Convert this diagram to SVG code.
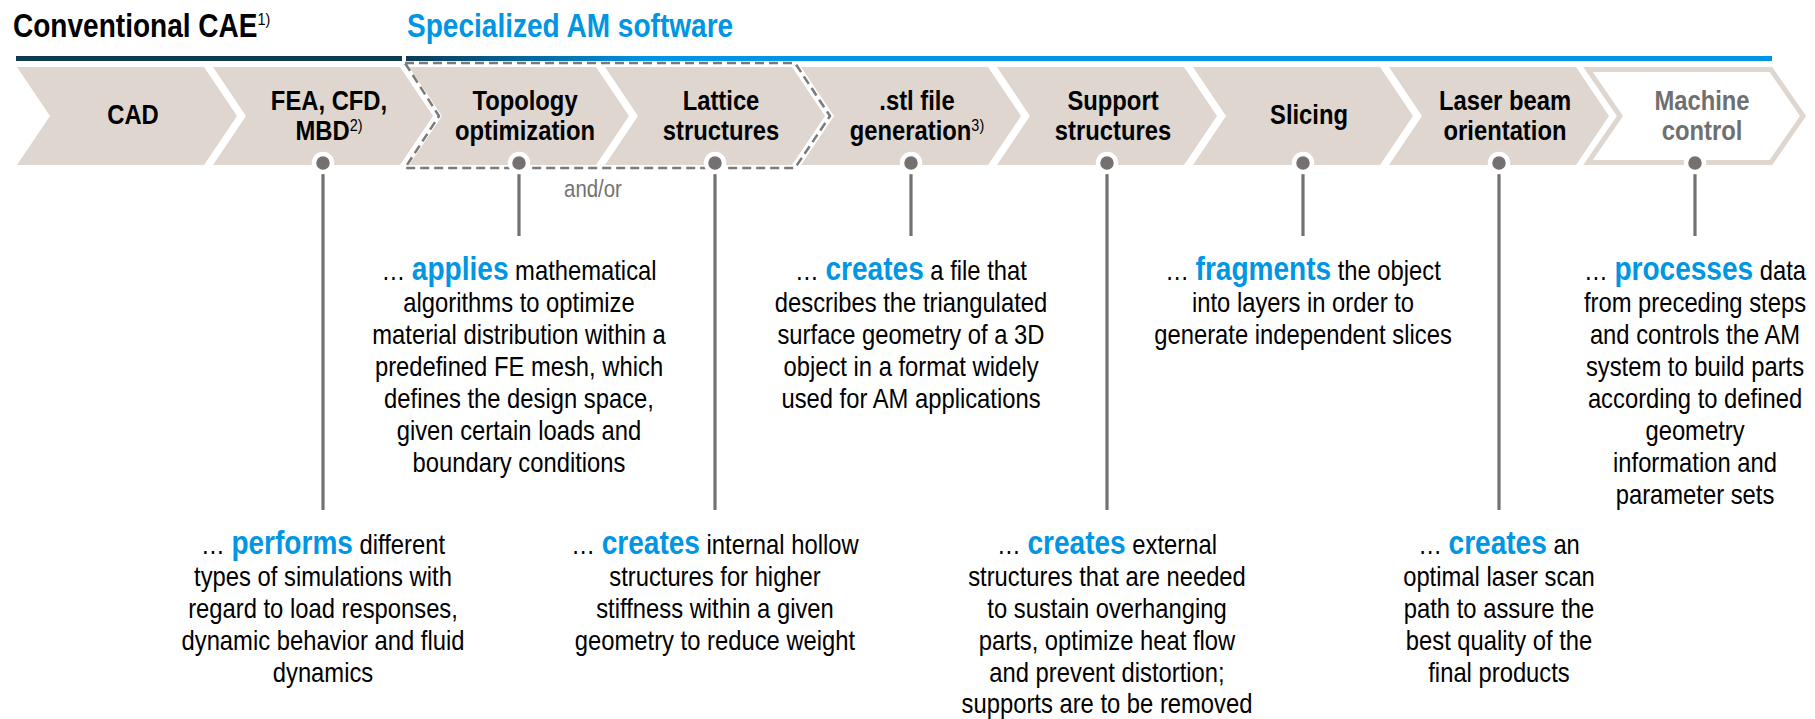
<svg xmlns="http://www.w3.org/2000/svg" width="1815" height="719" viewBox="0 0 1815 719">
<defs>
<style>
.hd{font-family:"Liberation Sans",Arial,sans-serif;font-weight:bold;font-size:33px}
.lbl{font-family:"Liberation Sans",Arial,sans-serif;font-weight:bold;font-size:28px;fill:#000;text-anchor:middle}
.sup{font-weight:normal;font-size:17px}
.body{font-family:"Liberation Sans",Arial,sans-serif;font-size:28px;fill:#000;text-anchor:middle}
.kw{font-weight:bold;font-size:33px;fill:#0096E3}
.chev{fill:#DED6CF}
.conn{stroke:#767171;stroke-width:3.2}
.dot{fill:#767171;stroke:#fff;stroke-width:4.5}
</style>
<linearGradient id="gl" gradientUnits="userSpaceOnUse" x1="406" y1="0" x2="650" y2="0">
<stop offset="0" stop-color="#0C3A55"/>
<stop offset="1" stop-color="#0094E4"/>
</linearGradient>
</defs>
<rect width="1815" height="719" fill="#fff"/>

<g id="headers">
<g transform="translate(13,37) scale(0.85,1)"><text class="hd" x="0" y="0" fill="#000">Conventional CAE<tspan class="sup" dy="-12" font-size="20">1)</tspan></text></g>
<g transform="translate(407,37) scale(0.85,1)"><text class="hd" x="0" y="0" fill="#0096E3">Specialized AM software</text></g>
<rect x="16" y="56" width="386" height="5" fill="#0E3D52"/>
<rect x="406" y="56" width="1366" height="5" fill="url(#gl)"/>
</g>

<g id="node-cad">
<polygon class="chev" points="17,67 204,67 237,116 204,165 17,165 50,116"/>
<g transform="translate(133,0) scale(0.85,1)"><text class="lbl" x="0" y="124">CAD</text></g>
</g>
<g id="node-fea">
<polygon class="chev" points="213,67 400,67 433,116 400,165 213,165 246,116"/>
<g transform="translate(329,0) scale(0.85,1)"><text class="lbl"><tspan x="0" y="110">FEA, CFD,</tspan><tspan x="0" y="140">MBD<tspan class="sup" dy="-9">2)</tspan></tspan></text></g>
</g>
<g id="node-topology">
<polygon class="chev" points="409,67 596,67 629,116 596,165 409,165 442,116"/>
<g transform="translate(525,0) scale(0.85,1)"><text class="lbl"><tspan x="0" y="110">Topology</tspan><tspan x="0" y="140">optimization</tspan></text></g>
</g>
<g id="node-lattice">
<polygon class="chev" points="605,67 792,67 825,116 792,165 605,165 638,116"/>
<g transform="translate(721,0) scale(0.85,1)"><text class="lbl"><tspan x="0" y="110">Lattice</tspan><tspan x="0" y="140">structures</tspan></text></g>
</g>
<g id="node-stl">
<polygon class="chev" points="801,67 988,67 1021,116 988,165 801,165 834,116"/>
<g transform="translate(917,0) scale(0.85,1)"><text class="lbl"><tspan x="0" y="110">.stl file</tspan><tspan x="0" y="140">generation<tspan class="sup" dy="-9">3)</tspan></tspan></text></g>
</g>
<g id="node-support">
<polygon class="chev" points="997,67 1184,67 1217,116 1184,165 997,165 1030,116"/>
<g transform="translate(1113,0) scale(0.85,1)"><text class="lbl"><tspan x="0" y="110">Support</tspan><tspan x="0" y="140">structures</tspan></text></g>
</g>
<g id="node-slicing">
<polygon class="chev" points="1193,67 1380,67 1413,116 1380,165 1193,165 1226,116"/>
<g transform="translate(1309,0) scale(0.85,1)"><text class="lbl" x="0" y="124">Slicing</text></g>
</g>
<g id="node-laser">
<polygon class="chev" points="1389,67 1576,67 1609,116 1576,165 1389,165 1422,116"/>
<g transform="translate(1505,0) scale(0.85,1)"><text class="lbl"><tspan x="0" y="110">Laser beam</tspan><tspan x="0" y="140">orientation</tspan></text></g>
</g>
<g id="node-machine">
<polygon points="1588,69.5 1771,69.5 1803,116 1771,162.5 1588,162.5 1620,116" fill="#fff" stroke="#DED6CF" stroke-width="5"/>
<g transform="translate(1702,0) scale(0.85,1)"><text class="lbl" style="fill:#6F6F6F"><tspan x="0" y="110">Machine</tspan><tspan x="0" y="140">control</tspan></text></g>
</g>

<g id="group-am-options">
<polygon points="405,63 795,63 830,116 795,168 405,168 439,116" fill="none" stroke="#7A7A7A" stroke-width="2.5" stroke-dasharray="9 5"/>
<g transform="translate(593,0) scale(0.85,1)"><text x="0" y="197" font-family="'Liberation Sans',Arial,sans-serif" font-size="24" fill="#767171" text-anchor="middle">and/or</text></g>
</g>

<g id="connectors">
<line class="conn" x1="323" y1="163" x2="323" y2="510"/>
<line class="conn" x1="519" y1="163" x2="519" y2="236"/>
<line class="conn" x1="715" y1="163" x2="715" y2="510"/>
<line class="conn" x1="911" y1="163" x2="911" y2="236"/>
<line class="conn" x1="1107" y1="163" x2="1107" y2="510"/>
<line class="conn" x1="1303" y1="163" x2="1303" y2="236"/>
<line class="conn" x1="1499" y1="163" x2="1499" y2="510"/>
<line class="conn" x1="1695" y1="163" x2="1695" y2="236"/>
<circle class="dot" cx="323" cy="163" r="9"/>
<circle class="dot" cx="519" cy="163" r="9"/>
<circle class="dot" cx="715" cy="163" r="9"/>
<circle class="dot" cx="911" cy="163" r="9"/>
<circle class="dot" cx="1107" cy="163" r="9"/>
<circle class="dot" cx="1303" cy="163" r="9"/>
<circle class="dot" cx="1499" cy="163" r="9"/>
<circle class="dot" cx="1695" cy="163" r="9"/>
</g>

<g id="desc-fea" transform="translate(323,0) scale(0.85,1)">
<text class="body"><tspan x="0" y="554">… <tspan class="kw">performs</tspan> different</tspan><tspan x="0" y="586">types of simulations with</tspan><tspan x="0" y="618">regard to load responses,</tspan><tspan x="0" y="650">dynamic behavior and fluid</tspan><tspan x="0" y="682">dynamics</tspan></text>
</g>
<g id="desc-topology" transform="translate(519,0) scale(0.85,1)">
<text class="body"><tspan x="0" y="280">… <tspan class="kw">applies</tspan> mathematical</tspan><tspan x="0" y="312">algorithms to optimize</tspan><tspan x="0" y="344">material distribution within a</tspan><tspan x="0" y="376">predefined FE mesh, which</tspan><tspan x="0" y="408">defines the design space,</tspan><tspan x="0" y="440">given certain loads and</tspan><tspan x="0" y="472">boundary conditions</tspan></text>
</g>
<g id="desc-lattice" transform="translate(715,0) scale(0.85,1)">
<text class="body"><tspan x="0" y="554">… <tspan class="kw">creates</tspan> internal hollow</tspan><tspan x="0" y="586">structures for higher</tspan><tspan x="0" y="618">stiffness within a given</tspan><tspan x="0" y="650">geometry to reduce weight</tspan></text>
</g>
<g id="desc-stl" transform="translate(911,0) scale(0.85,1)">
<text class="body"><tspan x="0" y="280">… <tspan class="kw">creates</tspan> a file that</tspan><tspan x="0" y="312">describes the triangulated</tspan><tspan x="0" y="344">surface geometry of a 3D</tspan><tspan x="0" y="376">object in a format widely</tspan><tspan x="0" y="408">used for AM applications</tspan></text>
</g>
<g id="desc-support" transform="translate(1107,0) scale(0.85,1)">
<text class="body"><tspan x="0" y="554">… <tspan class="kw">creates</tspan> external</tspan><tspan x="0" y="586">structures that are needed</tspan><tspan x="0" y="618">to sustain overhanging</tspan><tspan x="0" y="650">parts, optimize heat flow</tspan><tspan x="0" y="682">and prevent distortion;</tspan><tspan x="0" y="713">supports are to be removed</tspan></text>
</g>
<g id="desc-slicing" transform="translate(1303,0) scale(0.85,1)">
<text class="body"><tspan x="0" y="280">… <tspan class="kw">fragments</tspan> the object</tspan><tspan x="0" y="312">into layers in order to</tspan><tspan x="0" y="344">generate independent slices</tspan></text>
</g>
<g id="desc-laser" transform="translate(1499,0) scale(0.85,1)">
<text class="body"><tspan x="0" y="554">… <tspan class="kw">creates</tspan> an</tspan><tspan x="0" y="586">optimal laser scan</tspan><tspan x="0" y="618">path to assure the</tspan><tspan x="0" y="650">best quality of the</tspan><tspan x="0" y="682">final products</tspan></text>
</g>
<g id="desc-machine" transform="translate(1695,0) scale(0.85,1)">
<text class="body"><tspan x="0" y="280">… <tspan class="kw">processes</tspan> data</tspan><tspan x="0" y="312">from preceding steps</tspan><tspan x="0" y="344">and controls the AM</tspan><tspan x="0" y="376">system to build parts</tspan><tspan x="0" y="408">according to defined</tspan><tspan x="0" y="440">geometry</tspan><tspan x="0" y="472">information and</tspan><tspan x="0" y="504">parameter sets</tspan></text>
</g>
</svg>
